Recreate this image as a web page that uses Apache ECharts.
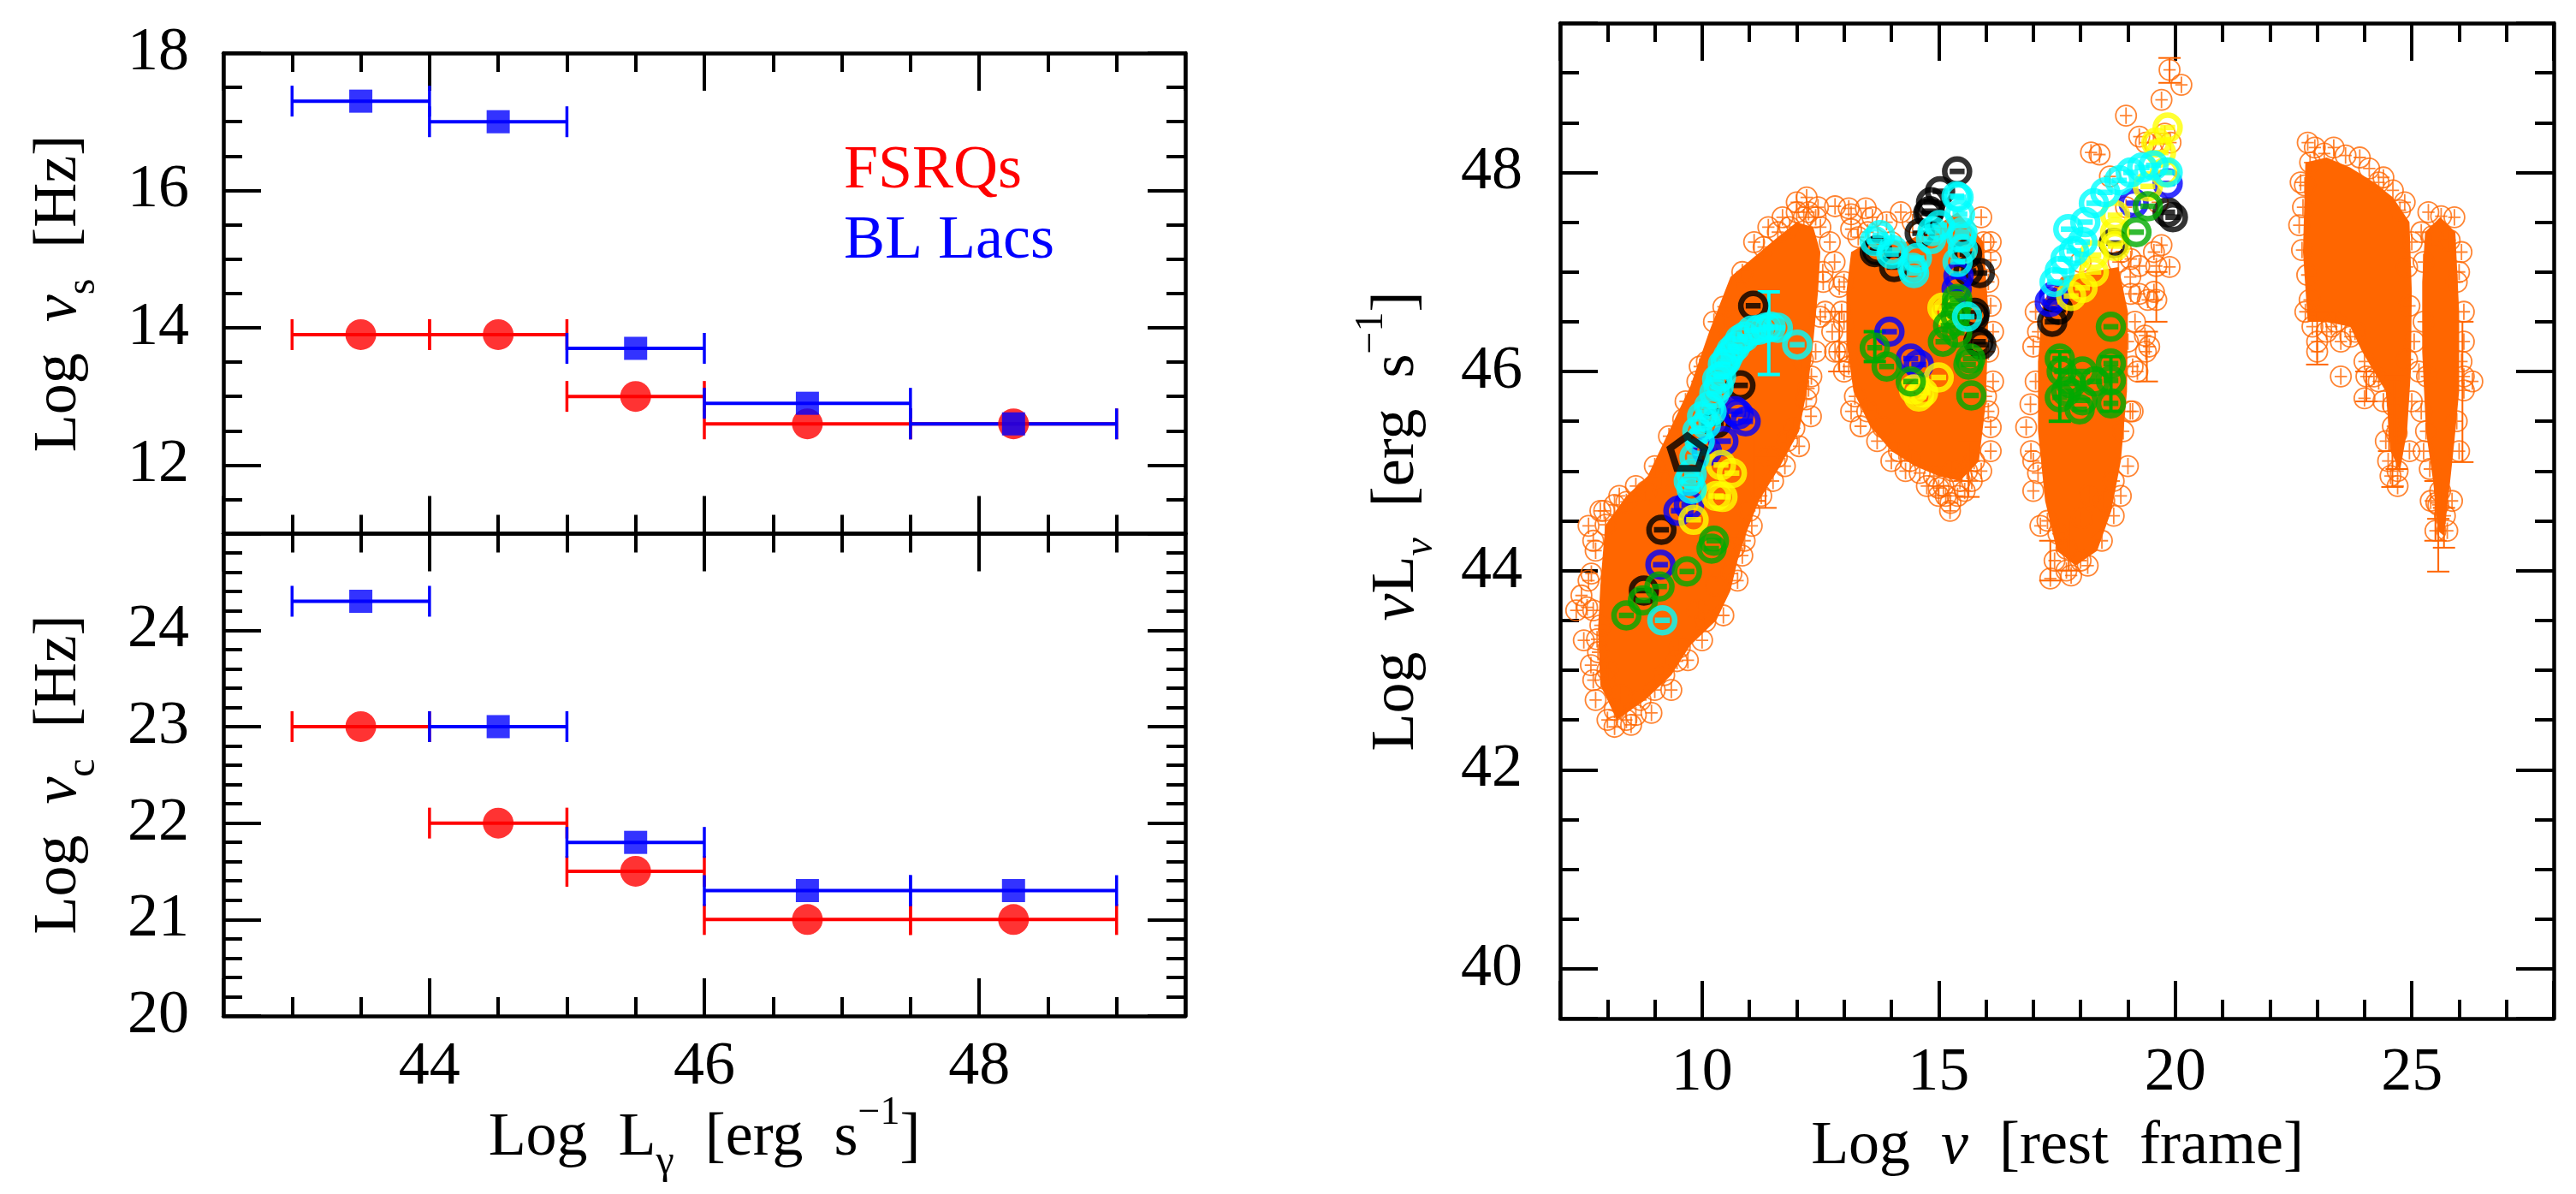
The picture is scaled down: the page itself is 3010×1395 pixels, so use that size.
<!DOCTYPE html>
<html>
<head>
<meta charset="utf-8">
<script src="https://cdn.jsdelivr.net/npm/echarts@6.0.0/dist/echarts.min.js"></script>
<style>
  html, body { margin: 0; padding: 0; background: #fff; }
  #main { width: 3010px; height: 1395px; }
</style>
</head>
<body>
<div id="main"></div>
<script>
// ---- left panels: binned peak frequencies vs gamma-ray luminosity ----
var binLo  = [43, 44, 45, 46, 47.5];
var binHi  = [44, 45, 46, 47.5, 49];
var binMid = [43.5, 44.5, 45.5, 46.75, 48.25];
var fsrqNuS = [13.9, 13.9, 13.0, 12.6, 12.6];
var bllNuS  = [17.3, 17.0, 13.7, 12.9, 12.6];
var fsrqNuC = [23.0, 22.0, 21.5, 21.0, 21.0];
var bllNuC  = [24.3, 23.0, 21.8, 21.3, 21.3];

// ---- right panel: SED points (log nu, log nuLnu) ----
// dense cores of the orange cloud (outline of fully overlapped circles)
var coreRadio = [[8.2,42.5],[7.85,42.85],[7.8,43.4],[7.85,43.85],[7.95,44.45],[8.4,44.75],[8.85,44.95],[9.15,45.25],
  [9.45,45.55],[9.75,45.85],[10.15,46.4],[10.6,46.95],[11.1,47.15],[11.6,47.35],[12.0,47.5],[12.35,47.45],[12.5,47.2],
  [12.45,46.8],[12.35,46.3],[12.25,45.9],[12.05,45.4],[11.65,45.05],[11.2,44.7],[10.95,44.4],[10.75,44.1],[10.6,43.8],
  [10.3,43.5],[9.75,43.25],[9.35,42.95],[8.8,42.7]];
var coreOptical = [[13.15,47.2],[13.7,47.35],[14.3,47.3],[14.9,47.45],[15.4,47.6],[15.95,47.3],[16.05,46.6],[16.0,45.7],
  [15.85,45.1],[15.45,44.9],[15.0,44.95],[14.5,45.05],[14.0,45.2],[13.55,45.45],[13.2,45.8],[13.05,46.3],[13.05,46.8]];
var coreXray = [[17.2,46.7],[17.6,46.95],[18.2,47.0],[18.8,47.05],[19.0,46.6],[18.98,45.8],[18.85,45.1],[18.65,44.6],
  [18.35,44.2],[17.9,44.05],[17.5,44.2],[17.25,44.7],[17.1,45.4],[17.1,46.1]];
var coreGamma1 = [[22.75,48.1],[23.2,48.15],[23.7,48.05],[24.2,47.9],[24.6,47.75],[24.95,47.5],[25.0,46.8],[24.98,46.0],
  [24.9,45.4],[24.75,45.0],[24.55,45.2],[24.45,45.8],[24.2,46.0],[23.95,46.2],[23.7,46.45],[23.2,46.5],[22.8,46.5],[22.7,47.2]];
var coreGamma2 = [[25.28,47.4],[25.6,47.55],[25.92,47.4],[26.0,46.6],[26.0,45.8],[25.9,45.3],[25.8,44.85],[25.68,44.35],
  [25.55,44.4],[25.45,44.9],[25.3,45.4],[25.22,46.2],[25.22,46.9]];

// single orange points around the cores
var orangePts = [
  // radio
  [7.34,43.6],[7.45,43.75],[7.57,43.63],[7.66,43.97],[7.6,43.9],[7.78,43.31],[7.8,43.18],[7.96,42.91],[8.15,42.6],
  [8.15,42.43],[8.3,42.75],[8.5,42.45],[8.7,42.7],[8.93,42.57],[9.2,42.95],[9.47,43.09],[9.53,43.23],[9.9,43.6],
  [10.07,43.49],[10.3,43.85],[10.62,43.97],[10.68,44.23],[7.96,44.46],[7.85,44.6],[7.6,44.45],[7.93,44.6],
  [8.15,44.66],[8.4,44.69],[8.82,44.8],[9.12,44.92],[9.6,45.52],[9.9,45.9],[10.1,46.1],[10.33,46.2],[10.57,46.36],
  [10.69,46.67],[10.75,46.81],[11.4,45.14],[11.58,45.14],[11.95,45.43],[12.2,45.72],[12.25,45.83],[12.31,45.95],
  [12.13,46.12],[12.21,47.75],[12.0,47.6],[12.4,47.55],[11.85,47.45],[11.6,47.4],[12.5,47.45],[11.3,47.25],
  [13.1,47.64],[13.46,47.64],[12.81,47.66],[13.15,47.58],[12.7,47.3],[12.8,47.1],[12.56,46.9],[12.9,46.85],
  [12.6,46.6],[12.75,46.4],[12.81,46.2],[12.9,46.2],[13.0,46.5],[11.0,44.6],[10.9,44.3],[8.0,43.0],[7.85,43.45],
  [8.6,42.55],[11.8,45.3],[7.65,43.05],[7.75,42.7],[8.0,42.5],
  [10.45,43.55],[10.75,43.9],[10.85,44.15],[11.05,44.45],[11.25,44.75],[11.5,44.9],[11.75,45.05],[12.05,45.25],
  [12.3,45.55],[12.4,46.2],[12.5,46.55],[12.55,47.0],[12.45,47.65],[12.15,47.55],[9.0,42.8],[9.35,42.8],[9.7,43.1],
  [10.0,43.3],[8.4,42.5],[7.7,42.9],[7.5,43.3],[7.7,43.6],[7.75,44.2],[7.7,44.3],[8.25,44.75],[8.6,44.85],[9.0,45.05],
  [9.3,45.35],[9.65,45.7],[9.95,46.05],[10.25,46.5],[10.45,46.65],[10.85,47.0],[11.1,47.3],[11.4,47.45],[11.7,47.55],
  [12.0,47.7],[12.25,47.6],
  // optical
  [13.15,47.43],[13.06,46.2],[13.1,46.05],[13.23,45.75],[13.49,45.6],[13.82,45.44],[14.16,45.2],[14.6,44.98],
  [14.9,44.95],[15.0,44.83],[15.0,44.75],[15.1,44.85],[15.24,44.6],[15.25,44.68],[15.3,45.0],[15.45,44.9],
  [15.6,45.0],[15.75,45.1],[16.1,47.12],[16.1,46.66],[16.0,45.75],[16.1,45.44],[16.05,45.6],[14.2,47.6],
  [14.45,47.5],[13.9,47.5],[13.5,47.4],[14.0,47.3],[15.95,47.3],[16.05,46.9],[16.05,46.2],[14.4,45.1],[15.55,44.8],
  [13.0,46.9],[12.95,46.6],[13.0,46.0],[13.15,45.6],[13.35,45.45],[13.7,45.3],[14.0,45.1],[14.3,45.0],[14.75,44.85],
  [15.15,44.75],[15.4,44.75],[15.7,44.9],[15.9,45.0],[16.1,45.2],[16.15,45.9],[16.15,46.4],[16.1,47.3],[15.9,47.55],
  [13.3,47.35],[13.6,47.55],[14.6,47.4],[14.9,47.15],
  // x-ray
  [17.36,43.92],[17.7,44.22],[17.53,44.37],[18.03,44.53],[18.2,44.76],[18.7,44.9],[18.5,44.7],[16.85,45.44],
  [16.94,45.67],[17.0,45.1],[17.1,44.98],[17.05,45.9],[17.1,46.4],[19.06,47.13],[19.24,47.06],[19.6,47.06],
  [19.24,46.78],[19.42,46.72],[19.6,46.72],[19.06,46.78],[19.36,46.36],[19.45,46.25],[19.55,46.8],[19.38,46.2],
  [19.2,46.0],[19.05,45.6],[18.4,48.18],[18.22,48.2],[19.24,48.36],[19.54,48.3],[19.78,48.39],[19.9,48.3],
  [20.13,48.88],[19.71,48.73],[19.88,49.03],[18.96,48.57],[19.38,48.3],[18.62,47.96],[18.96,47.65],[19.63,47.7],
  [19.71,47.27],[19.55,47.2],[19.88,47.05],[18.87,47.2],[17.7,44.0],[18.0,44.1],[17.3,44.5],[18.9,45.4],[19.0,46.3],
  [17.05,46.6],[17.0,46.25],[16.95,45.2],[17.0,44.8],[17.15,44.45],[17.45,44.1],[17.8,43.95],[18.15,44.05],
  [18.45,44.3],[18.7,44.55],[18.85,44.75],[19.0,45.05],[19.1,45.6],[19.1,46.05],[19.15,46.5],[19.05,46.95],
  [18.8,47.1],[18.0,47.1],
  // gamma 1
  [22.95,48.25],[23.15,48.19],[23.6,48.17],[24.1,48.04],[24.6,47.82],[24.75,47.62],[22.74,47.87],[22.68,47.22],
  [22.62,47.47],[22.79,46.97],[22.84,46.72],[23.0,46.3],[23.5,46.3],[23.0,46.2],[23.5,45.95],[24.0,45.73],
  [24.04,45.95],[24.6,45.66],[24.6,45.45],[24.68,45.38],[24.9,47.05],[24.95,46.66],[24.9,46.12],[23.3,46.45],
  [23.8,46.4],[24.3,45.9],[24.5,45.1],[24.7,45.0],[22.85,48.1],[24.3,47.9],
  [22.7,47.65],[22.65,47.9],[22.75,46.6],[22.9,46.45],[23.2,46.4],[23.4,46.5],[23.7,46.35],[24.0,46.1],[24.2,45.95],
  [24.4,45.7],[24.45,45.3],[24.55,44.95],[24.7,44.85],[24.95,45.2],[25.0,45.7],[25.05,46.3],[25.0,47.3],[24.85,47.7],
  [24.4,47.95],[23.9,48.15],[23.35,48.25],[22.8,48.3],
  // gamma 2
  [25.62,47.56],[25.44,47.36],[25.8,47.32],[25.32,45.95],[25.38,45.02],[25.56,44.66],[25.6,44.8],[26.1,45.95],
  [26.1,45.81],[26.05,46.1],[26.28,45.9],[25.52,44.68],[25.25,46.5],[25.95,46.9],[25.95,45.5],[25.3,45.4],
  [25.7,44.55],[26.0,47.0],[25.25,47.1],
  [25.2,47.4],[25.35,47.6],[25.9,47.55],[26.05,47.2],[26.1,46.6],[26.1,46.3],[25.15,46.0],[25.2,45.6],[25.25,45.2],
  [25.4,44.7],[25.5,44.4],[25.75,44.4],[25.85,44.7],[26.0,45.2]
];
// orange error bars: [log nu, low, high]
var orangeBars = [[11.34,44.63,45.14],[11.1,44.7,45.45],[15.63,44.74,45.29],[17.36,43.9,44.3],[19.88,48.9,49.15],
  [24.59,44.84,45.95],[24.68,45.02,45.95],[23.0,46.07,46.6],[24.04,45.7,46.0],[26.07,45.09,46.5],[25.56,43.99,44.52],
  [25.68,44.23,44.63],[25.5,44.3,44.9],[24.52,45.2,45.9],[19.6,46.5,47.0],[19.4,45.9,46.4],[17.75,44.0,44.5],
  [12.9,46.0,46.6]];

// highlighted sources
var cyanPts = [[9.16,43.5],[9.78,44.82],[9.78,44.97],[9.84,45.14],[9.9,45.4],[10.08,45.47],[10.26,45.78],[10.32,45.92],
  [10.44,46.07],[10.62,46.21],[10.8,46.32],[11.05,46.41],[11.35,46.44],[11.6,46.44],[12.01,46.27],[10.35,45.85],
  [10.5,46.1],[10.2,45.6],[9.72,44.9],[9.95,45.3],[10.0,45.55],[10.15,45.65],[10.4,45.95],[10.55,46.15],[10.7,46.25],
  [10.9,46.35],[11.2,46.42],[11.45,46.45],
  [13.65,47.31],[13.76,47.37],[14.03,47.22],[14.0,47.18],[14.45,47.04],[14.48,46.99],[14.54,47.14],[14.84,47.33],
  [14.87,47.41],[15.02,47.47],[15.38,47.76],[15.42,47.75],[15.45,47.58],[15.48,47.35],[15.51,47.23],[15.5,47.4],
  [15.4,47.1],[15.6,46.55],
  [17.56,47.01],[17.68,47.13],[17.74,47.43],[17.86,47.21],[18.04,47.3],[18.28,47.69],[18.52,47.8],[18.82,47.92],
  [19.06,48.0],[19.54,48.07],[19.84,48.0],[17.45,46.9],[18.1,47.5],[19.3,48.05]];
var blackPts = [[8.77,43.8],[9.14,44.41],[10.3,45.48],[10.81,45.86],[11.08,46.66],
  [13.65,47.2],[13.7,47.22],[14.06,47.05],[14.6,47.39],[14.78,47.59],[14.81,47.61],[14.84,47.7],[15.03,47.81],
  [15.39,48.01],[15.6,47.18],[15.63,47.01],[15.75,46.55],[15.84,46.3],[15.9,46.27],[15.76,46.59],[15.87,46.99],
  [17.53,46.62],[18.7,47.29],[19.84,47.6],[19.95,47.55],[17.4,46.5]];
var bluePts = [[9.12,44.06],[9.5,44.6],[9.72,44.66],[10.1,45.2],[10.45,45.3],[10.7,45.6],[10.77,45.57],[10.92,45.5],
  [13.96,46.4],[14.41,46.13],[14.58,46.07],[15.38,46.83],[15.42,46.96],
  [17.44,46.76],[19.12,47.69],[19.84,47.89],[17.35,46.7]];
var yellowPts = [[9.82,44.51],[10.3,44.75],[10.43,44.74],[10.4,45.06],[10.63,44.98],
  [14.48,45.82],[14.58,45.75],[14.67,45.79],[15.0,45.94],[15.08,46.64],[15.17,46.6],
  [17.8,46.76],[18.04,46.84],[18.28,47.0],[18.28,47.17],[18.73,47.26],[18.73,47.4],[18.73,47.57],[19.42,47.86],
  [19.6,48.3],[19.84,48.45],[19.78,48.0],[19.7,48.2]];
var greenPts = [[8.4,43.55],[8.75,43.7],[9.1,43.84],[9.68,43.99],[10.2,44.22],[10.25,44.3],
  [13.65,46.24],[13.9,46.05],[14.41,45.9],[15.09,46.3],[15.2,46.46],[15.36,46.56],[15.38,46.66],[15.39,46.39],
  [15.39,46.73],[15.63,46.07],[15.67,46.13],[15.69,45.76],
  [17.56,46.13],[17.56,45.74],[17.6,46.0],[17.8,45.88],[17.98,45.62],[18.04,46.0],[18.04,45.71],[18.64,46.45],
  [18.64,46.08],[18.64,45.91],[18.64,45.68],[19.18,47.4],[19.42,47.66],[17.7,45.8],[18.3,45.9]];
var cyanBars = [[11.41,45.97,46.8]];
var greenBars = [[18.64,45.6,46.15],[17.56,45.5,46.2],[13.65,46.1,46.4]];
var pentagonPt = [[9.69,45.19]];

var ORANGE = '#ff6600';
var SERIF = '"Liberation Serif", "DejaVu Serif", serif';
var TICK_FS = 72;

var circPlus = 'path://M0,10A10,10,0,1,1,20,10A10,10,0,1,1,0,10ZM10,2L10,18M4,10L16,10';
var circBar = 'path://M0,10A10,10,0,1,1,20,10A10,10,0,1,1,0,10ZM4,10L16,10';
var pentagon = 'path://M10,0L19.5,6.9L15.9,18.1L4.1,18.1L0.5,6.9Z';

function axis(grid, pos, min, max, split, minorSplit, label) {
  return {
    type: 'value', gridIndex: grid, position: pos, min: min, max: max, splitNumber: split,
    axisLine: { show: true, onZero: false, lineStyle: { color: '#000', width: 4.5 } },
    axisTick: { show: true, inside: true, length: 44, lineStyle: { color: '#000', width: 4 } },
    minorTick: { show: true, splitNumber: minorSplit, length: 22, lineStyle: { color: '#000', width: 4 } },
    splitLine: { show: false },
    axisLabel: label ? Object.assign({
      show: true, color: '#000', fontFamily: SERIF, fontSize: TICK_FS, margin: 26
    }, label) : { show: false }
  };
}

function hBars(lo, hi, vals, color, xi, yi) {
  return {
    type: 'custom', xAxisIndex: xi, yAxisIndex: yi, z: 3,
    data: lo.map(function (l, i) { return [l, hi[i], vals[i]]; }),
    encode: { x: [0, 1], y: 2 },
    renderItem: function (params, api) {
      var a = api.coord([api.value(0), api.value(2)]);
      var b = api.coord([api.value(1), api.value(2)]);
      var st = { stroke: color, lineWidth: 4 };
      return { type: 'group', children: [
        { type: 'line', shape: { x1: a[0], y1: a[1], x2: b[0], y2: b[1] }, style: st },
        { type: 'line', shape: { x1: a[0], y1: a[1] - 18, x2: a[0], y2: a[1] + 18 }, style: { stroke: color, lineWidth: 3.5 } },
        { type: 'line', shape: { x1: b[0], y1: b[1] - 18, x2: b[0], y2: b[1] + 18 }, style: { stroke: color, lineWidth: 3.5 } }
      ] };
    }
  };
}

function vBars(rows, color, w, cap) {
  return {
    type: 'custom', xAxisIndex: 4, yAxisIndex: 4, z: 4,
    data: rows, encode: { x: 0, y: [1, 2] },
    renderItem: function (params, api) {
      var a = api.coord([api.value(0), api.value(1)]);
      var b = api.coord([api.value(0), api.value(2)]);
      var st = { stroke: color, lineWidth: w };
      return { type: 'group', children: [
        { type: 'line', shape: { x1: a[0], y1: a[1], x2: b[0], y2: b[1] }, style: st },
        { type: 'line', shape: { x1: a[0] - cap, y1: a[1], x2: a[0] + cap, y2: a[1] }, style: st },
        { type: 'line', shape: { x1: b[0] - cap, y1: b[1], x2: b[0] + cap, y2: b[1] }, style: st }
      ] };
    }
  };
}

function core(pts) {
  return {
    type: 'custom', xAxisIndex: 4, yAxisIndex: 4, z: 2, silent: true, data: [0],
    renderItem: function (params, api) {
      return { type: 'polygon', shape: { points: pts.map(function (p) { return api.coord(p); }) },
               style: { fill: ORANGE } };
    }
  };
}

function dots(pts, color, sym, size, bw, z) {
  return {
    type: 'scatter', xAxisIndex: 4, yAxisIndex: 4, z: z, data: pts,
    symbol: sym, symbolSize: size, symbolKeepAspect: true,
    itemStyle: { color: 'rgba(0,0,0,0)', borderColor: color, borderWidth: bw }
  };
}

var rich = {
  t:   { fontFamily: SERIF, fontSize: 72, color: '#000' },
  nu:  { fontFamily: SERIF, fontSize: 72, color: '#000', fontStyle: 'italic' },
  sub: { fontFamily: SERIF, fontSize: 48, color: '#000', lineHeight: 104, verticalAlign: 'bottom' },
  subnu: { fontFamily: SERIF, fontSize: 48, color: '#000', lineHeight: 104, verticalAlign: 'bottom', fontStyle: 'italic' },
  sup: { fontFamily: SERIF, fontSize: 46, color: '#000', lineHeight: 100, verticalAlign: 'top' }
};

function label(x, y, rot, text) {
  return {
    type: 'text', x: x, y: y, rotation: rot,
    style: { text: text, rich: rich, align: 'center', verticalAlign: 'middle', fontFamily: SERIF, fontSize: 72 }
  };
}

var option = {
  animation: false,
  backgroundColor: '#fff',
  grid: [
    { left: 261, top: 62, width: 1124, height: 561.6 },
    { left: 261, top: 623.6, width: 1124, height: 563.4 },
    { left: 1823, top: 27, width: 1161, height: 1163 }
  ],
  xAxis: [
    axis(0, 'bottom', 42.5, 49.5, 3, 4, null),
    axis(0, 'top', 42.5, 49.5, 3, 4, null),
    axis(1, 'bottom', 42.5, 49.5, 3, 4, { showMinLabel: false, showMaxLabel: false, margin: 24 }),
    axis(1, 'top', 42.5, 49.5, 3, 4, null),
    axis(2, 'bottom', 7, 28, 4, 5, { showMinLabel: false, showMaxLabel: false, margin: 28 }),
    axis(2, 'top', 7, 28, 4, 5, null)
  ],
  yAxis: [
    axis(0, 'left', 11, 18, 3, 4, { showMinLabel: false, showMaxLabel: true, margin: 40 }),
    axis(0, 'right', 11, 18, 3, 4, null),
    axis(1, 'left', 20, 25, 5, 5, { showMinLabel: true, showMaxLabel: false, margin: 40 }),
    axis(1, 'right', 20, 25, 5, 5, null),
    axis(2, 'left', 39.5, 49.5, 5, 4, { showMinLabel: false, showMaxLabel: false, margin: 44 }),
    axis(2, 'right', 39.5, 49.5, 5, 4, null)
  ],
  graphic: [
    label(69, 343, Math.PI / 2, '{t|Log  }{nu|\u03bd}{sub|s}{t|  [Hz]}'),
    label(69, 905, Math.PI / 2, '{t|Log  }{nu|\u03bd}{sub|c}{t|  [Hz]}'),
    label(823, 1330, 0, '{t|Log  L}{sub|\u03b3}{t|  [erg  s}{sup|\u22121}{t|]}'),
    label(1632, 609, Math.PI / 2, '{t|Log  }{nu|\u03bd}{t|L}{subnu|\u03bd}{t|  [erg  s}{sup|\u22121}{t|]}'),
    label(2404, 1340, 0, '{t|Log  }{nu|\u03bd}{t|  [rest  frame]}'),
    { type: 'text', x: 986, y: 200, style: { text: 'FSRQs', fill: '#ff0000', fontFamily: SERIF, fontSize: 72, verticalAlign: 'middle' } },
    { type: 'text', x: 986, y: 282, style: { text: 'BL Lacs', fill: '#0000ff', fontFamily: SERIF, fontSize: 72, verticalAlign: 'middle' } }
  ],
  series: [
    hBars(binLo, binHi, fsrqNuS, '#ff0000', 0, 0),
    { type: 'scatter', xAxisIndex: 0, yAxisIndex: 0, z: 4, symbol: 'circle', symbolSize: 36,
      itemStyle: { color: '#ff0000' }, data: binMid.map(function (x, i) { return [x, fsrqNuS[i]]; }) },
    hBars(binLo, binHi, bllNuS, '#0000ff', 0, 0),
    { type: 'scatter', xAxisIndex: 0, yAxisIndex: 0, z: 4, symbol: 'rect', symbolSize: 27,
      itemStyle: { color: '#0000ff' }, data: binMid.map(function (x, i) { return [x, bllNuS[i]]; }) },
    hBars(binLo, binHi, fsrqNuC, '#ff0000', 2, 2),
    { type: 'scatter', xAxisIndex: 2, yAxisIndex: 2, z: 4, symbol: 'circle', symbolSize: 36,
      itemStyle: { color: '#ff0000' }, data: binMid.map(function (x, i) { return [x, fsrqNuC[i]]; }) },
    hBars(binLo, binHi, bllNuC, '#0000ff', 2, 2),
    { type: 'scatter', xAxisIndex: 2, yAxisIndex: 2, z: 4, symbol: 'rect', symbolSize: 27,
      itemStyle: { color: '#0000ff' }, data: binMid.map(function (x, i) { return [x, bllNuC[i]]; }) },

    core(coreRadio), core(coreOptical), core(coreXray), core(coreGamma1), core(coreGamma2),
    dots(orangePts, ORANGE, circPlus, 24, 1.8, 3),
    vBars(orangeBars, ORANGE, 2, 13),
    dots(blackPts, '#000000', circBar, 29, 6.5, 5),
    dots(bluePts, '#0000ff', circBar, 29, 6.5, 5),
    dots(yellowPts, '#ffff00', circBar, 29, 6.5, 5),
    dots(greenPts, '#00aa00', circBar, 29, 6.5, 5),
    vBars(greenBars, '#00aa00', 4, 13),
    dots(cyanPts, '#00ffff', circBar, 29, 6.5, 5),
    vBars(cyanBars, '#00ffff', 4, 13),
    dots(pentagonPt, '#000000', pentagon, 40, 8, 6)
  ]
};

var chart = echarts.init(document.getElementById('main'));
chart.setOption(option);
</script>
</body>
</html>
